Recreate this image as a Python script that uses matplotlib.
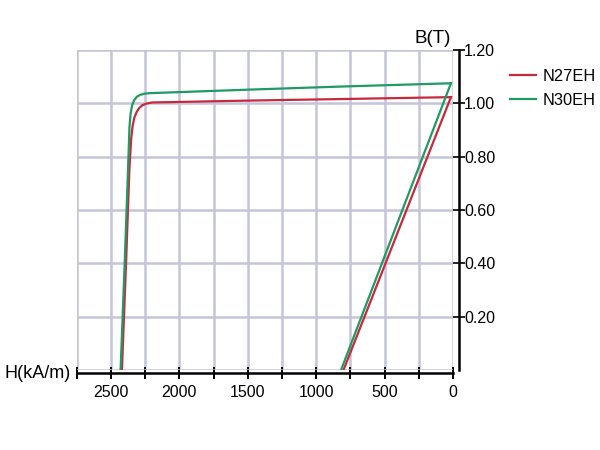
import numpy as np
import matplotlib.pyplot as plt
from matplotlib.ticker import MultipleLocator

plt.rcParams['font.family'] = ['Liberation Sans', 'DejaVu Sans']

# demagnetization curves (H in kA/m, B in T)
n27_h = [2420, 2390, 2365, 2352, 2342, 2330, 2314, 2294, 2270, 2240, 2200, 1500, 800, 15]
n27_b = [0.00, 0.40, 0.76, 0.87, 0.915, 0.945, 0.966, 0.982, 0.993, 0.999, 1.003, 1.010, 1.016, 1.023]
n30_h = [2430, 2400, 2375, 2365, 2357, 2346, 2330, 2310, 2285, 2255, 2215, 1500, 800, 15]
n30_b = [0.00, 0.40, 0.76, 0.91, 0.960, 0.992, 1.012, 1.025, 1.032, 1.036, 1.038, 1.051, 1.063, 1.075]
# recoil lines
n27_rh = [15, 800]
n27_rb = [1.023, 0.0]
n30_rh = [15, 818]
n30_rb = [1.075, 0.0]

red = '#c8283c'
green = '#1f9a62'

fig = plt.figure(figsize=(6, 4.5), dpi=100)
ax = fig.add_axes([0.128, 0.178, 0.627, 0.711])

ax.plot(n27_h, n27_b, color=red, lw=1.6, label='N27EH')
ax.plot(n27_rh, n27_rb, color=red, lw=1.6)
ax.plot(n30_h, n30_b, color=green, lw=1.6, label='N30EH')
ax.plot(n30_rh, n30_rb, color=green, lw=1.6)

ax.set_xlim(2750, 0)
ax.set_ylim(0, 1.2)
ax.xaxis.set_major_locator(MultipleLocator(500))
ax.xaxis.set_minor_locator(MultipleLocator(250))
ax.set_yticks([0.2, 0.4, 0.6, 0.8, 1.0, 1.2])
ax.set_yticks([0.0], minor=True)
ax.yaxis.set_major_formatter(plt.FuncFormatter(lambda v, p: f'{v:.2f}'))

ax.grid(True, which='both', color='#c4c4da', lw=1.8, zorder=0)
ax.set_axisbelow(True)

for s in ['top', 'left']:
    ax.spines[s].set_visible(False)
ax.spines['right'].set_position(('outward', 4))
ax.spines['bottom'].set_position(('outward', 2))
ax.spines['right'].set_linewidth(1.8)
ax.spines['bottom'].set_linewidth(1.8)
ax.yaxis.tick_right()
ax.tick_params(axis='y', which='major', direction='inout', length=8, width=1.2,
               labelsize=11.5, pad=0)
ax.tick_params(axis='y', which='minor', length=0)
ax.tick_params(axis='x', which='both', direction='inout', length=8, width=1.4,
               labelsize=11.5, pad=5)

ax.text(0.995, 1.01, 'B(T)', transform=ax.transAxes, ha='right', va='bottom', fontsize=13.5)
fig.text(0.008, 0.171, 'H(kA/m)', ha='left', va='center', fontsize=13)

ax.legend(loc='upper left', bbox_to_anchor=(1.152, 0.94), frameon=False, fontsize=11.8,
          handlelength=1.6, handletextpad=0.35, borderaxespad=0, borderpad=0,
          labelspacing=0.55)

fig.savefig('out.png', dpi=100)
